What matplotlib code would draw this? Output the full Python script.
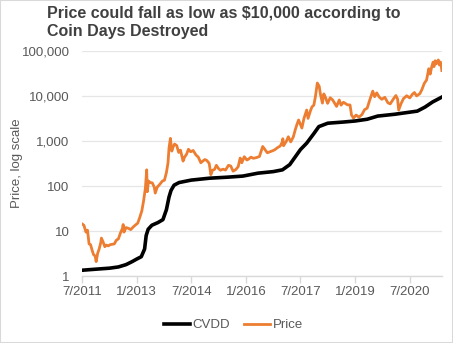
import pandas as pd
import numpy as np
import matplotlib
matplotlib.use("Agg")
import matplotlib.pyplot as plt
import matplotlib.patches as mpatches
from matplotlib.ticker import FuncFormatter, FixedLocator

plt.rcParams["font.family"] = ["Liberation Sans", "DejaVu Sans"]

TEXT_COLOR = "#595959"
ORANGE = "#ED7D31"

# price (USD)
price_dates = [
    "2011-07-01", "2011-07-20", "2011-08-10", "2011-08-25", "2011-09-10", "2011-09-25", "2011-10-10",
    "2011-10-25", "2011-11-10", "2011-11-20", "2011-12-05", "2011-12-20",
    "2012-01-05", "2012-01-12", "2012-01-28", "2012-02-15", "2012-03-01", "2012-03-20", "2012-04-10",
    "2012-05-01", "2012-05-20", "2012-06-10", "2012-06-30", "2012-07-20", "2012-08-10", "2012-08-17",
    "2012-08-25", "2012-09-15", "2012-10-10", "2012-11-01", "2012-11-25", "2012-12-15",
    "2013-01-10", "2013-01-30", "2013-02-20", "2013-03-10", "2013-03-28", "2013-04-10", "2013-04-16",
    "2013-04-28", "2013-05-15", "2013-06-05", "2013-06-25", "2013-07-05", "2013-07-25", "2013-08-20",
    "2013-09-15", "2013-10-05", "2013-10-25", "2013-11-10", "2013-11-20", "2013-12-04", "2013-12-18",
    "2013-12-31",
    "2014-01-15", "2014-02-05", "2014-02-25", "2014-03-15", "2014-04-10", "2014-04-25", "2014-05-15",
    "2014-06-03", "2014-06-25", "2014-07-20", "2014-08-18", "2014-09-10", "2014-10-05", "2014-10-25",
    "2014-11-15", "2014-12-05", "2014-12-28",
    "2015-01-14", "2015-01-30", "2015-02-20", "2015-03-10", "2015-04-01", "2015-04-20", "2015-05-15",
    "2015-06-10", "2015-07-10", "2015-08-01", "2015-08-25", "2015-09-20", "2015-10-15", "2015-11-04",
    "2015-11-20", "2015-12-15",
    "2016-01-10", "2016-01-25", "2016-02-20", "2016-03-15", "2016-04-15", "2016-05-15", "2016-06-17",
    "2016-07-05", "2016-08-02", "2016-08-25", "2016-09-20", "2016-10-15", "2016-11-10", "2016-12-10",
    "2016-12-31",
    "2017-01-05", "2017-01-12", "2017-02-10", "2017-03-01", "2017-03-25", "2017-04-20", "2017-05-10",
    "2017-05-25", "2017-06-12", "2017-07-15", "2017-08-05", "2017-09-01", "2017-09-15", "2017-10-10",
    "2017-10-25", "2017-11-12", "2017-11-28", "2017-12-17",
    "2018-01-05", "2018-01-17", "2018-02-06", "2018-02-20", "2018-03-10", "2018-03-30", "2018-04-25",
    "2018-05-20", "2018-06-28", "2018-07-25", "2018-08-12", "2018-09-05", "2018-10-15", "2018-11-10",
    "2018-11-25", "2018-12-15",
    "2019-01-10", "2019-02-07", "2019-03-10", "2019-04-05", "2019-05-01", "2019-05-30", "2019-06-26",
    "2019-07-15", "2019-08-05", "2019-08-30", "2019-09-25", "2019-10-25", "2019-11-25", "2019-12-18",
    "2020-01-20", "2020-02-13", "2020-03-01", "2020-03-12", "2020-04-05", "2020-04-29", "2020-06-01",
    "2020-07-01", "2020-07-28", "2020-08-17", "2020-09-08", "2020-10-10", "2020-10-30", "2020-11-24",
    "2020-12-17", "2021-01-08", "2021-01-22", "2021-02-08", "2021-02-21", "2021-03-01", "2021-03-13",
    "2021-03-25", "2021-04-14", "2021-04-25", "2021-05-05", "2021-05-12", "2021-05-19",
]
price = [
    14.5, 13.5, 9.5, 10.5, 5.2, 5.0, 3.8,
    3.0, 2.8, 2.1, 3.2, 4.0,
    5.5, 7.0, 5.8, 4.5, 4.9, 4.7, 5.0,
    5.1, 5.2, 6.3, 6.7, 9.0, 11.5, 14.0,
    9.5, 12.0, 11.5, 10.8, 12.3, 13.5,
    15.0, 20.0, 28.0, 47.0, 90.0, 230.0, 75.0,
    130.0, 120.0, 118.0, 95.0, 70.0, 95.0, 110.0,
    130.0, 135.0, 200.0, 330.0, 700.0, 1150.0, 600.0,
    740.0,
    860.0, 800.0, 560.0, 630.0, 360.0, 440.0, 510.0,
    660.0, 580.0, 620.0, 490.0, 440.0, 330.0, 360.0,
    390.0, 370.0, 320.0,
    180.0, 225.0, 235.0, 290.0, 245.0, 225.0, 238.0,
    228.0, 290.0, 280.0, 215.0, 232.0, 270.0, 420.0,
    330.0, 450.0,
    380.0, 395.0, 440.0, 415.0, 430.0, 455.0, 760.0,
    670.0, 550.0, 575.0, 605.0, 640.0, 710.0, 780.0,
    960.0,
    1130.0, 790.0, 1000.0, 1250.0, 960.0, 1240.0, 1800.0,
    2300.0, 2950.0, 1950.0, 3200.0, 4900.0, 3200.0, 4800.0,
    5800.0, 6300.0, 9800.0, 19500.0,
    16500.0, 11000.0, 7000.0, 11200.0, 9200.0, 6900.0, 9200.0,
    8200.0, 5900.0, 8200.0, 6300.0, 7300.0, 6400.0, 6350.0,
    3800.0, 3250.0,
    3800.0, 3400.0, 3900.0, 5000.0, 5400.0, 8600.0, 12900.0,
    9700.0, 11800.0, 9500.0, 8500.0, 9400.0, 7100.0, 6700.0,
    8700.0, 10300.0, 8600.0, 4900.0, 6800.0, 8800.0, 10200.0,
    9100.0, 11000.0, 12000.0, 10100.0, 11300.0, 13800.0, 19200.0,
    22800.0, 40600.0, 30800.0, 46400.0, 57000.0, 45200.0, 61000.0,
    52000.0, 63500.0, 49000.0, 57300.0, 50000.0, 37000.0,
]

# CVDD
cvdd_dates = [
    "2011-07-01", "2011-10-01", "2012-01-01", "2012-04-01", "2012-07-01", "2012-09-15",
    "2012-11-15", "2013-01-01", "2013-02-15", "2013-03-20", "2013-04-05", "2013-04-25",
    "2013-06-01", "2013-08-01", "2013-09-20", "2013-10-25", "2013-11-20", "2013-12-10",
    "2014-01-10", "2014-03-01", "2014-07-01", "2015-01-01", "2015-07-01", "2015-12-01",
    "2016-05-01", "2016-10-01", "2017-01-01", "2017-03-15", "2017-05-01", "2017-07-01",
    "2017-09-01", "2017-11-15", "2018-01-01", "2018-04-01", "2018-09-01", "2019-01-01",
    "2019-05-01", "2019-08-15", "2020-02-01", "2020-09-15", "2020-12-01", "2021-02-15",
    "2021-05-19",
]
cvdd = [
    1.35, 1.4, 1.45, 1.5, 1.6, 1.8,
    2.1, 2.4, 2.7, 4.0, 8.0, 11.0,
    13.5, 15.5, 18.0, 30.0, 57.0, 80.0,
    105.0, 120.0, 136.0, 150.0, 158.0, 167.0,
    194.0, 210.0, 230.0, 300.0, 420.0, 650.0,
    900.0, 1500.0, 2100.0, 2500.0, 2650.0, 2800.0,
    3060.0, 3600.0, 3950.0, 4640.0, 5700.0, 7400.0,
    9500.0,
]

x_ticks = ["2011-07-01", "2013-01-01", "2014-07-01", "2016-01-01", "2017-07-01", "2019-01-01", "2020-07-01"]
x_labels = ["7/2011", "1/2013", "7/2014", "1/2016", "7/2017", "1/2019", "7/2020"]
y_ticks = [1, 10, 100, 1000, 10000, 100000]

fig = plt.figure(figsize=(4.53, 3.43), dpi=100)
ax = fig.add_axes([0.181, 0.195, 0.795, 0.656])

ax.plot(pd.to_datetime(cvdd_dates), cvdd, color="black", lw=2.6, label="CVDD", zorder=3)
ax.plot(pd.to_datetime(price_dates), price, color=ORANGE, lw=2.0, label="Price", zorder=2)

ax.set_yscale("log")
ax.set_ylim(1, 100000)
ax.set_xlim(pd.Timestamp("2011-07-01"), pd.Timestamp("2021-05-22"))
ax.yaxis.set_major_locator(FixedLocator(y_ticks))
ax.yaxis.set_minor_locator(FixedLocator([]))
ax.yaxis.set_major_formatter(FuncFormatter(lambda v, p: f"{v:,.0f}"))
ax.set_xticks(pd.to_datetime(x_ticks))
ax.set_xticklabels(x_labels)

ax.grid(axis="y", color="#e6e6e6", lw=0.9)
ax.set_axisbelow(True)
for s in ["top", "right", "left"]:
    ax.spines[s].set_visible(False)
ax.spines["bottom"].set_color("#d9d9d9")
ax.spines["bottom"].set_linewidth(1.0)
ax.tick_params(axis="x", colors="#d9d9d9", length=5, width=1.0, labelcolor=TEXT_COLOR, labelsize=9.5, pad=2)
ax.tick_params(axis="y", length=0, labelcolor=TEXT_COLOR, labelsize=9.5, pad=9)

ax.set_ylabel("Price, log scale", color=TEXT_COLOR, fontsize=9.5)
ax.yaxis.set_label_coords(-0.165, 0.5)

fig.text(0.104, 0.982, "Price could fall as low as $10,000 according to\nCoin Days Destroyed",
         fontsize=11.5, fontweight="bold", color="#404040", va="top", ha="left", linespacing=1.25)

fig.legend(loc="lower center", bbox_to_anchor=(0.515, 0.0), ncol=2, frameon=False,
           fontsize=9.5, labelcolor=TEXT_COLOR, handlelength=2.0, columnspacing=1.0, handletextpad=0.2)

fig.patches.append(mpatches.Rectangle((0, 0), 1, 1, transform=fig.transFigure, fill=False,
                                      edgecolor="#d9d9d9", lw=1.5))

plt.savefig("out.png", dpi=100)
